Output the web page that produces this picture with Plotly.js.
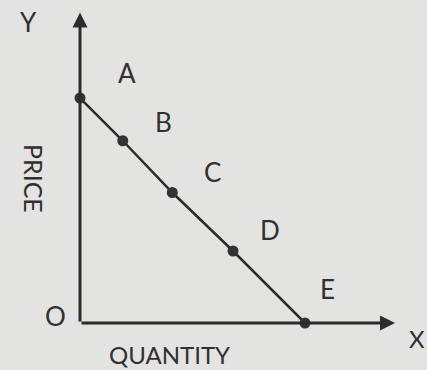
<!DOCTYPE html>
<html>
<head>
<meta charset="utf-8">
<script src="https://cdn.plot.ly/plotly-3.0.1.min.js"></script>
<style>
html,body{margin:0;padding:0;background:#e3e3e1;}
#chart{width:427px;height:370px;}
</style>
</head>
<body>
<div id="chart"></div>
<script>
// Demand schedule (arbitrary units)
const pointLabels = ["A", "B", "C", "D", "E"];
const quantity = [0, 1.9, 4.1, 6.8, 10];
const price = [10, 8.1, 5.8, 3.2, 0];
// Region labels beside the curve (positions in data units)
const labelX = [2.09, 3.73, 5.87, 8.44, 11.02];
const labelY = [11.11, 8.93, 6.71, 4.13, 1.51];

const ink = "#303030";
const fontFam = "Lato, 'Open Sans', sans-serif";

const trace = {
  x: quantity,
  y: price,
  mode: "lines+markers",
  line: {color: "#2b2b2b", width: 2.5},
  marker: {color: "#333333", size: 11},
  hoverinfo: "skip",
  cliponaxis: false
};

const annotations = [];
pointLabels.forEach((t, i) => {
  annotations.push({x: labelX[i], y: labelY[i], xref: "x", yref: "y", text: t,
    showarrow: false, font: {family: fontFam, size: 26, color: ink}});
});
// axis arrows
annotations.push({x: 0, y: 13.8, ax: 0, ay: 0, xref: "x", yref: "y", axref: "x", ayref: "y",
  text: "", showarrow: true, arrowhead: 2, arrowsize: 1, arrowwidth: 3, arrowcolor: "#2b2b2b"});
annotations.push({x: 14.0, y: 0, ax: 0, ay: 0, xref: "x", yref: "y", axref: "x", ayref: "y",
  text: "", showarrow: true, arrowhead: 2, arrowsize: 1, arrowwidth: 3, arrowcolor: "#2b2b2b"});
// axis letters and titles
annotations.push({x: -2.31, y: 13.38, xref: "x", yref: "y", text: "Y", showarrow: false,
  font: {family: fontFam, size: 26, color: ink}});
annotations.push({x: -1.07, y: 0.31, xref: "x", yref: "y", text: "O", showarrow: false,
  font: {family: fontFam, size: 26, color: ink}});
annotations.push({x: 1.0, y: 0.04, xref: "paper", yref: "paper", xanchor: "right", text: "X",
  showarrow: false, font: {family: fontFam, size: 24, color: ink}});
annotations.push({x: 3.98, y: -1.42, xref: "x", yref: "y", text: "QUANTITY", showarrow: false,
  font: {family: fontFam, size: 24, color: ink}});
annotations.push({x: -2.04, y: 6.44, xref: "x", yref: "y", text: "PRICE", showarrow: false,
  textangle: 90, font: {family: fontFam, size: 25, color: ink}});

const layout = {
  width: 427, height: 370,
  margin: {l: 0, r: 0, t: 0, b: 0},
  paper_bgcolor: "#e3e3e1",
  plot_bgcolor: "#e3e3e1",
  showlegend: false,
  xaxis: {range: [-3.556, 15.422], visible: false, fixedrange: true},
  yaxis: {range: [-2.089, 14.356], visible: false, fixedrange: true},
  annotations: annotations
};

Plotly.newPlot("chart", [trace], layout, {staticPlot: true, displayModeBar: false});
</script>
</body>
</html>
